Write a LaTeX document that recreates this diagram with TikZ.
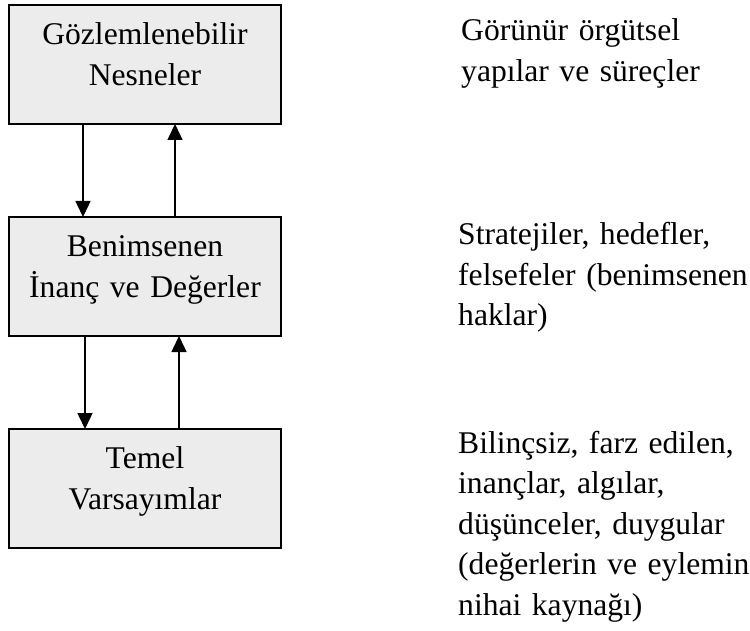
\documentclass[tikz,border=0pt]{standalone}
\usepackage{fontspec}
\setmainfont{Liberation Serif}[WordSpace=0.92]
\usetikzlibrary{arrows.meta}
\definecolor{boxgray}{RGB}{236,236,236}
\begin{document}
\begin{tikzpicture}[x=1pt,y=-1pt,
  layer/.style={draw=black, line width=2pt, fill=boxgray,
    minimum width=272pt, minimum height=119pt, inner sep=0pt, outer sep=0pt,
    align=center, text width=272pt, text height=20pt, text depth=60pt,
    font=\fontsize{31.6}{41}\selectfont},
  note/.style={anchor=base west, inner sep=0pt, align=left, text width=300pt,
    font=\fontsize{31.6}{40.5}\selectfont},
  link/.style={line width=1.5pt, -{Triangle[length=16pt,width=15pt]}}]
  \useasboundingbox (0,0) rectangle (750,631);

  % the three layers
  \node[layer] (b1) at (145,64.5) {Gözlemlenebilir\\Nesneler};
  \node[layer] (b2) at (145,276.5) {Benimsenen\\İnanç ve Değerler};
  \node[layer] (b3) at (145,488.5) {Temel\\Varsayımlar};

  % links between layers
  \draw[link] (b1.south -| 83,0) -- (b2.north -| 83,0);
  \draw[link] (b2.north -| 175,0) -- (b1.south -| 175,0);
  \draw[link] (b2.south -| 85,0) -- (b3.north -| 85,0);
  \draw[link] (b3.north -| 179,0) -- (b2.south -| 179,0);

  % descriptions
  \node[note] (n1) at (461,41) {Görünür örgütsel\\yapılar ve süreçler};
  \begin{scope}
    \clip (440,200) rectangle (750,332);
    \node[note] (n2) at (458,245) {Stratejiler, hedefler,\\felsefeler (benimsenen\\haklar)};
  \end{scope}
  \node[note] (n3) at (458,453) {Bilinçsiz, farz edilen,\\inançlar, algılar,\\düşünceler, duygular\\(değerlerin ve eylemin\\nihai kaynağı)};
\end{tikzpicture}
\end{document}
